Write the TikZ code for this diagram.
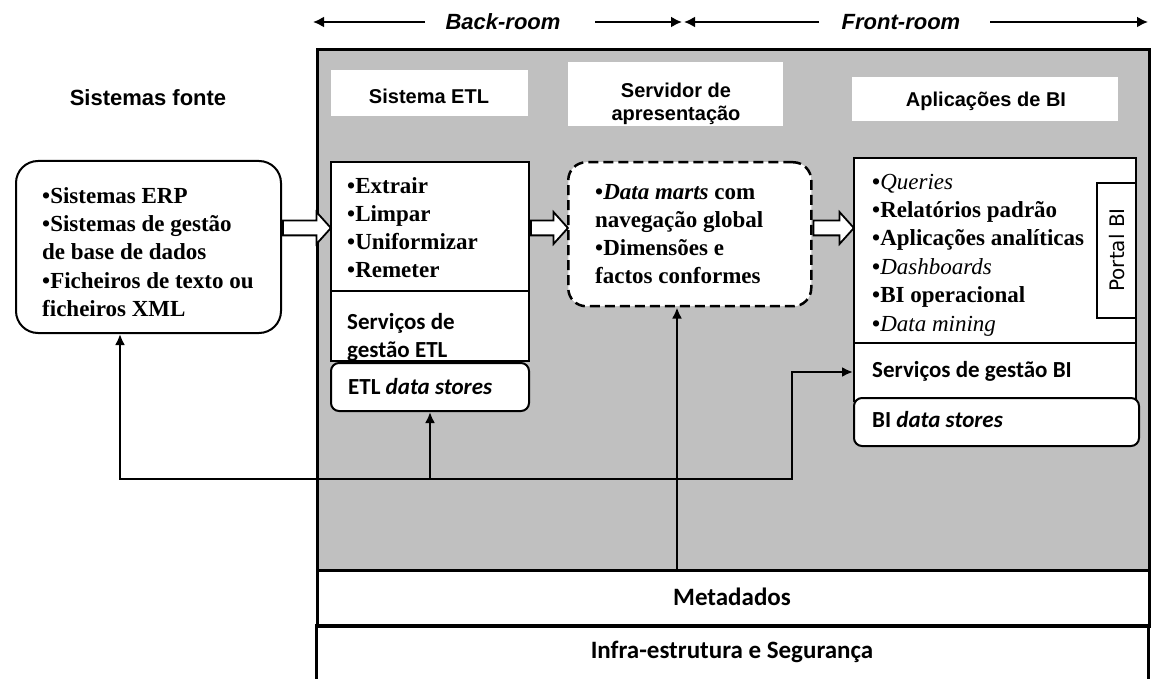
\documentclass[tikz,border=0pt]{standalone}
\usepackage{fontspec}
\setmainfont{Liberation Serif}
\newfontfamily\headfont{Liberation Sans}
\newfontfamily\calfont{Carlito}
\newfontfamily\verdfont{DejaVu Sans}
\usetikzlibrary{arrows.meta,shapes.arrows,calc}
\definecolor{panel}{RGB}{192,192,192}

\tikzset{
  box/.style={draw, line width=2pt, fill=white, anchor=north west, inner sep=0pt},
  hdrbox/.style={fill=white, anchor=north west, inner sep=0pt},
  hdrtext/.style={inner sep=0pt, align=center, font=\headfont\bfseries\fontsize{20}{23}\selectfont},
  serifbody/.style={anchor=north west, inner sep=0pt, align=left, font=\bfseries\fontsize{23}{28.4}\selectfont},
  sansbody/.style={inner sep=0pt, align=left, font=\calfont\bfseries\fontsize{23}{28}\selectfont},
  bigsans/.style={inner sep=0pt, font=\calfont\bfseries\fontsize{25}{30}\selectfont},
  roomtext/.style={inner sep=0pt, font=\headfont\itshape\bfseries\fontsize{22}{26}\selectfont},
  roomline/.style={line width=2pt, -{Latex[length=11pt,width=11pt]}},
  conn/.style={line width=2.4pt, -{Latex[length=11pt,width=10pt]}},
  blockarrow/.style={single arrow, draw, fill=white, line width=1.8pt,
    inner xsep=0pt, inner ysep=6.5pt, minimum width=30pt,
    single arrow head extend=8.5pt, single arrow tip angle=96, anchor=tail},
}

\begin{document}
\begin{tikzpicture}[x=1pt,y=1pt]
\useasboundingbox (0,0) rectangle (1152,-679);

% back-room / front-room scale
\node[roomtext] (back) at (503,-22) {Back-room};
\node[roomtext] (front) at (901,-22) {Front-room};
\coordinate (tl) at (313,-22);
\coordinate (tmR) at (682,-22);
\coordinate (tmL) at (684,-22);
\coordinate (tr) at (1148,-22);
\coordinate (backL) at (425,-22);
\coordinate (backR) at (595,-22);
\coordinate (frontL) at (819,-22);
\coordinate (frontR) at (990,-22);
\draw[roomline] (backL) -- (tl);
\draw[roomline] (backR) -- (tmR);
\draw[roomline] (frontL) -- (tmL);
\draw[roomline] (frontR) -- (tr);

% source systems
\node[font=\headfont\bfseries\fontsize{22}{25}\selectfont, inner sep=0pt] (srctitle) at (148,-98) {Sistemas fonte};
\node[box, rounded corners=22pt, minimum width=265pt, minimum height=172pt] (src) at (15,-160) {};
\node[serifbody] (srctext) at (42,-183) {\strut•Sistemas ERP\\•Sistemas de gestão\\de base de dados\\•Ficheiros de texto ou\\ficheiros XML};

% main panel and bottom layers
\node[draw, line width=3pt, fill=panel, anchor=north west, inner sep=0pt, minimum width=832pt, minimum height=521pt] (panel) at (316,-48) {};
\node[draw, line width=3pt, fill=white, anchor=north west, inner sep=0pt, minimum width=832pt, minimum height=56pt] (meta) at (316,-569) {};
\node[bigsans] (metatext) at (732,-597) {Metadados};
\node[anchor=north west, inner sep=0pt, minimum width=832pt, minimum height=60pt] (infra) at (316,-625) {};
\draw[line width=3pt] (infra.south west) -- (infra.north west) -- (infra.north east) -- (infra.south east);
\node[bigsans] (infratext) at (732,-652) {Infra-estrutura e Segurança};

% headers
\node[hdrbox, minimum width=197pt, minimum height=46pt] (etlhdr) at (331,-70) {};
\node[hdrtext] (etlhdrtext) at (429,-96) {Sistema ETL};
\node[hdrbox, minimum width=215pt, minimum height=64pt] (srvhdr) at (568,-62) {};
\node[hdrtext] (srvhdrtext) at (676,-104) {Servidor de\\apresentação};
\node[hdrbox, minimum width=266pt, minimum height=44pt] (bihdr) at (852,-77) {};
\node[hdrtext] (bihdrtext) at (986,-101) {Aplicações de BI};

% ETL system
\node[box, minimum width=198pt, minimum height=129pt] (etl) at (330,-161) {};
\node[serifbody, font=\bfseries\fontsize{23}{28}\selectfont] (etltext) at (347,-174) {\strut•Extrair\\•Limpar\\•Uniformizar\\•Remeter};
\node[box, minimum width=198pt, minimum height=70pt] (etlsvc) at (330,-290) {};
\node[sansbody, anchor=north west] (etlsvctext) at (347,-309.5) {\strut Serviços de\\gestão ETL};
\node[box, rounded corners=8pt, minimum width=198pt, minimum height=48pt] (etlds) at (330,-362) {};
\node[sansbody, anchor=base west] (etldstext) at (348,-394) {ETL \textit{data stores}};

% presentation server
\node[box, rounded corners=18pt, dash pattern=on 10pt off 5pt, line width=2.5pt, minimum width=243pt, minimum height=144pt] (dm) at (567,-161) {};
\node[serifbody, font=\bfseries\fontsize{23}{28}\selectfont] (dmtext) at (595,-180) {\strut•\textit{Data marts} com\\navegação global\\•Dimensões e\\factos conformes};

% BI applications
\node[box, minimum width=282pt, minimum height=185pt] (bi) at (853,-157) {};
\node[serifbody] (bitext) at (872,-169) {\strut•{\mdseries\textit{Queries}}\\•Relatórios padrão\\•Aplicações analíticas\\•{\mdseries\textit{Dashboards}}\\•BI operacional\\•{\mdseries\textit{Data mining}}};
\node[box, minimum width=39pt, minimum height=135pt] (portal) at (1096,-182) {};
\node[inner sep=0pt, rotate=90, font=\verdfont\fontsize{20}{22}\selectfont] (portaltext) at (1117,-250) {Portal BI};
\node[box, minimum width=282pt, minimum height=58pt] (bisvc) at (853,-342) {};
\node[sansbody, anchor=base west] (bisvctext) at (872,-377) {Serviços de gestão BI};
\node[box, rounded corners=8pt, minimum width=285pt, minimum height=48pt] (bids) at (853,-397) {};
\node[sansbody, anchor=base west] (bidstext) at (872,-427) {BI \textit{data stores}};

% data flow block arrows
\path let \p1=(src.east), \p2=(etl.west) in node[blockarrow, minimum height={\x2-\x1}] (flow1) at (\x1,-228pt) {};
\path let \p1=(etl.east), \p2=(dm.west) in node[blockarrow, minimum height={\x2-\x1}] (flow2) at (\x1,-228pt) {};
\path let \p1=(dm.east), \p2=(bi.west) in node[blockarrow, minimum height={\x2-\x1}] (flow3) at (\x1,-228pt) {};

% management links
\coordinate (busL) at (120,-479);
\coordinate (busR) at (792,-479);
\coordinate (busT) at (792,-372);
\draw[conn, {Latex[length=11pt,width=10pt]}-{Latex[length=11pt,width=10pt]}]
  (busL |- src.south) -- (busL) -- (busR) -- (busT) -- (busT -| bisvc.west);
\draw[conn] (etlds.south |- busL) -- (etlds.south);
\coordinate (metaUp) at (677,-569);
\draw[conn] (metaUp) -- (metaUp |- dm.south);
\end{tikzpicture}
\end{document}
